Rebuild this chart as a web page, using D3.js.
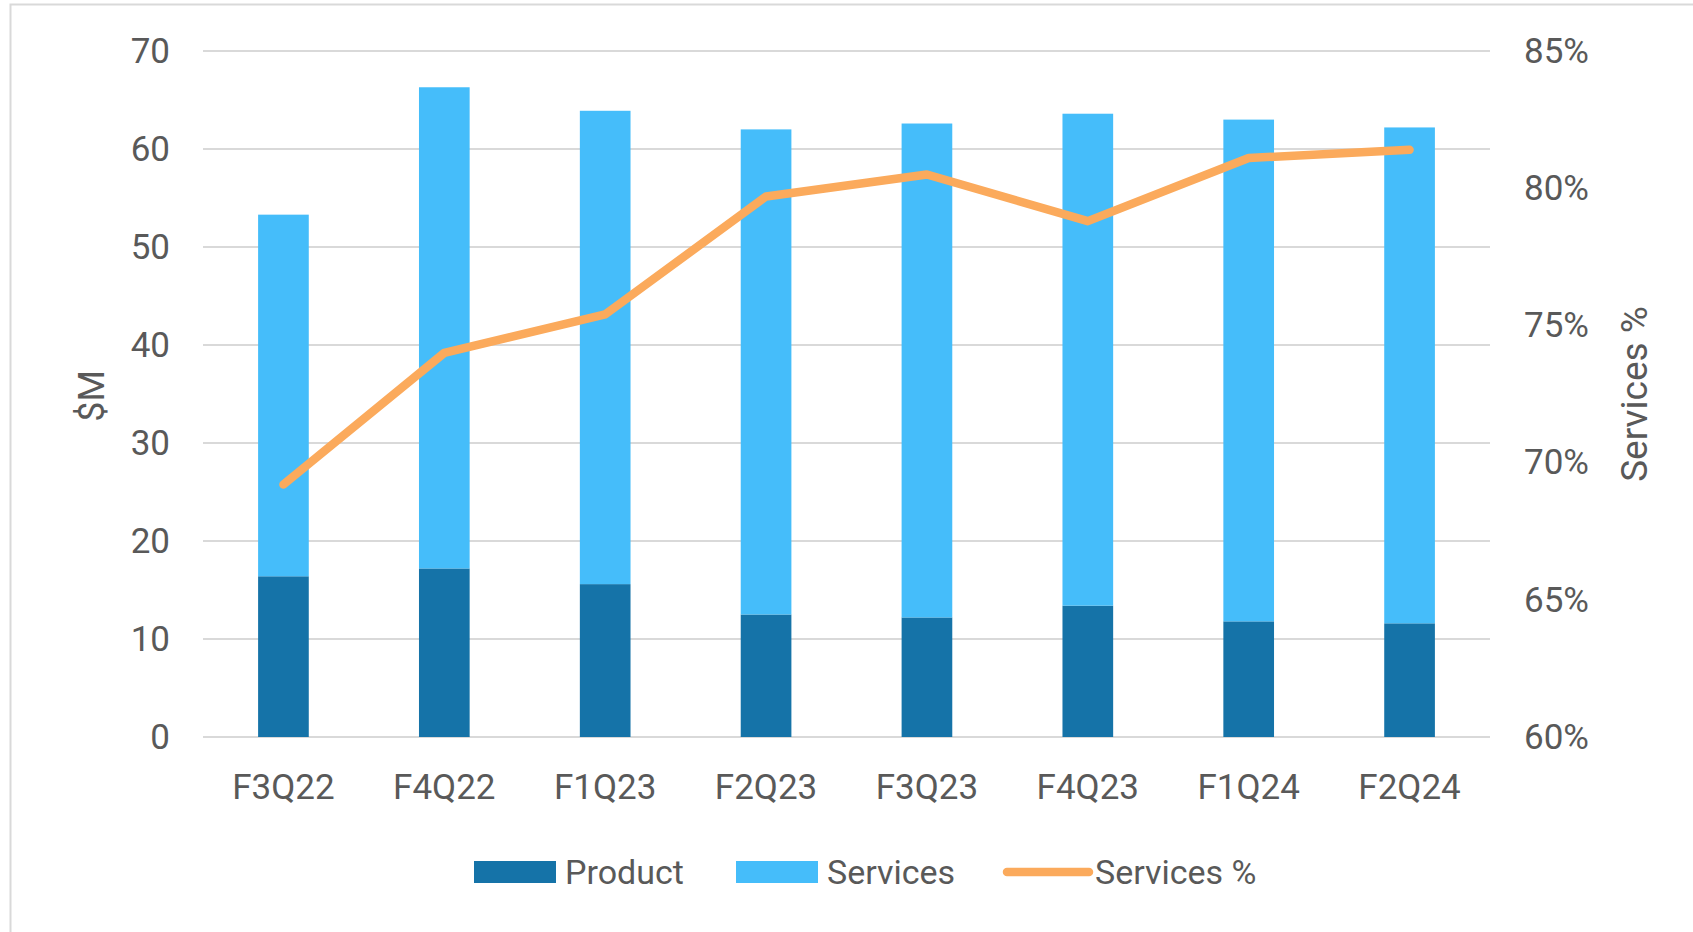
<html>
<head>
<script src="https://d3js.org/d3.v7.min.js"></script>
<style>
  body { margin: 0; background: #fff; }
  text { font-family: Roboto, "Liberation Sans", sans-serif; fill: #595959; }
</style>
</head>
<body>
<svg id="chart" width="1693" height="932"></svg>
<script>
  // data
  quarters = ["F3Q22", "F4Q22", "F1Q23", "F2Q23", "F3Q23", "F4Q23", "F1Q24", "F2Q24"];
  product = [16.4, 17.2, 15.6, 12.5, 12.2, 13.4, 11.8, 11.6];
  services = [36.9, 49.1, 48.3, 49.5, 50.4, 50.2, 51.2, 50.6];
  servicesPct = [69.2, 74.0, 75.4, 79.7, 80.5, 78.8, 81.1, 81.4];
  leftTicks = [0, 10, 20, 30, 40, 50, 60, 70];
  rightTicks = [60, 65, 70, 75, 80, 85];

  left = 203;
  right = 1490;
  top_ = 51;
  bottom = 737;
  fontSize = 35;

  svg = d3.select("#chart");

  // outer frame
  svg.append("rect")
      .attr("x", 10.5).attr("y", 4.5)
      .attr("width", 1720).attr("height", 1000)
      .attr("fill", "none")
      .attr("stroke", "#d9d9d9")
      .attr("stroke-width", 2);

  x = d3.scaleBand().domain(quarters).range([left, right])
      .paddingInner(0.685).paddingOuter(0.3425);
  y = d3.scaleLinear().domain([0, 70]).range([bottom, top_]);
  y2 = d3.scaleLinear().domain([60, 85]).range([bottom, top_]);

  // gridlines
  svg.append("g")
    .selectAll("line")
    .data(leftTicks)
    .join("line")
      .attr("x1", left).attr("x2", right)
      .attr("y1", d => y(d)).attr("y2", d => y(d))
      .attr("stroke", "#d9d9d9")
      .attr("stroke-width", 2);

  rows = quarters.map((q, i) => ({q: q, product: product[i], services: services[i]}));
  stack = d3.stack().keys(["product", "services"])(rows);
  colors = {product: "#1573a8", services: "#45bdfa"};

  svg.append("g")
    .selectAll("g")
    .data(stack)
    .join("g")
      .attr("fill", d => colors[d.key])
    .selectAll("rect")
    .data(d => d)
    .join("rect")
      .attr("x", d => x(d.data.q))
      .attr("width", x.bandwidth())
      .attr("y", d => y(d[1]))
      .attr("height", d => y(d[0]) - y(d[1]));

  // services % line
  svg.append("path")
      .datum(servicesPct)
      .attr("fill", "none")
      .attr("stroke", "#fbaa5c")
      .attr("stroke-width", 8.5)
      .attr("stroke-linejoin", "round")
      .attr("stroke-linecap", "round")
      .attr("d", d3.line()
        .x((d, i) => x(quarters[i]) + x.bandwidth() / 2)
        .y(d => y2(d)));

  // left axis
  leftAxis = svg.append("g")
      .attr("transform", "translate(170,0)")
      .call(d3.axisLeft(y).tickValues(leftTicks).tickSize(0).tickPadding(0));
  leftAxis.select(".domain").remove();
  leftAxis.selectAll("text").attr("font-size", fontSize).attr("fill", "#595959").attr("font-family", null);

  // right axis
  rightAxis = svg.append("g")
      .attr("transform", "translate(1524,0)")
      .call(d3.axisRight(y2).tickValues(rightTicks).tickSize(0).tickPadding(0)
        .tickFormat(d => d + "%"));
  rightAxis.select(".domain").remove();
  rightAxis.selectAll("text").attr("font-size", fontSize).attr("fill", "#595959").attr("font-family", null);

  // bottom axis
  bottomAxis = svg.append("g")
      .attr("transform", "translate(0," + bottom + ")")
      .call(d3.axisBottom(x).tickSize(0).tickPadding(37));
  bottomAxis.select(".domain").remove();
  bottomAxis.selectAll("text").attr("font-size", fontSize).attr("fill", "#595959").attr("font-family", null);

  // axis titles
  svg.append("text")
      .attr("transform", "translate(92,396) rotate(-90)")
      .attr("text-anchor", "middle")
      .attr("dominant-baseline", "central")
      .attr("font-size", fontSize + 1)
      .text("$M");
  svg.append("text")
      .attr("transform", "translate(1634,394) rotate(-90)")
      .attr("text-anchor", "middle")
      .attr("dominant-baseline", "central")
      .attr("font-size", fontSize + 2)
      .text("Services %");

  // legend
  legendItems = [
    {label: "Product", color: colors.product, kind: "box", x: 474},
    {label: "Services", color: colors.services, kind: "box", x: 736},
    {label: "Services %", color: "#fbaa5c", kind: "line", x: 1003}
  ];
  legend = svg.append("g").attr("transform", "translate(0,872)");
  item = legend.selectAll("g")
    .data(legendItems)
    .join("g")
      .attr("transform", d => "translate(" + d.x + ",0)");
  item.filter(d => d.kind == "box").append("rect")
      .attr("x", 0).attr("y", -11)
      .attr("width", 82).attr("height", 22)
      .attr("fill", d => d.color);
  item.filter(d => d.kind == "line").append("line")
      .attr("x1", 4).attr("x2", 86)
      .attr("stroke", d => d.color)
      .attr("stroke-width", 8.5)
      .attr("stroke-linecap", "round");
  item.append("text")
      .attr("x", d => d.kind == "line" ? 92 : 91)
      .attr("dominant-baseline", "central")
      .attr("font-size", fontSize - 1)
      .text(d => d.label);
</script>
</body>
</html>
